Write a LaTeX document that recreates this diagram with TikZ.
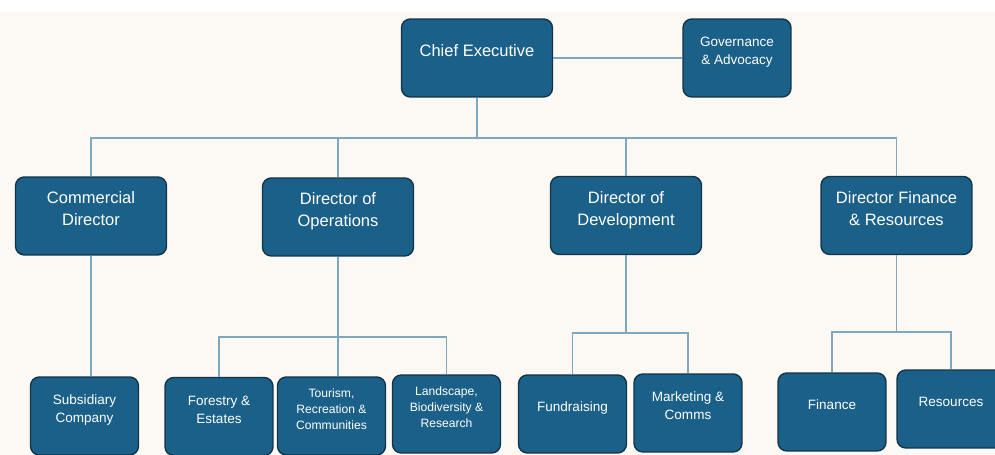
\documentclass[tikz,border=0pt]{standalone}
\usepackage{fontspec}
\setmainfont{Liberation Sans}
\definecolor{boxfill}{RGB}{27,96,136}
\definecolor{boxline}{RGB}{18,52,72}
\definecolor{linkcol}{RGB}{127,168,190}
\definecolor{paper}{RGB}{252,249,244}
\newcommand{\boxtxt}[1]{\raisebox{3.3pt}[\height][\depth]{\begin{tabular}{@{}c@{}}#1\end{tabular}}}
\tikzset{
  box/.style={draw=boxline, fill=boxfill, line width=0.8pt, rounded corners=5pt, text=white, inner sep=0pt},
  chief/.style={box, minimum width=3.02cm, minimum height=1.56cm, font=\fontsize{9.4}{12.5}\selectfont},
  dept/.style={box, minimum width=2.16cm, minimum height=1.56cm, font=\fontsize{7.7}{10.2}\selectfont},
  unit/.style={dept, font=\fontsize{6.9}{9.1}\selectfont},
  link/.style={draw=linkcol, line width=0.6pt}
}

\begin{document}
\begin{tikzpicture}[x=0.02cm, y=-0.02cm]
  \useasboundingbox (0,0) rectangle (995,455);
  \clip (0,0) rectangle (995,455);
  \fill[paper] (0,0) rectangle (995,455);
  \fill[white] (0,0) rectangle (995,12);

  \node[chief] (ceo) at (477,58) {\boxtxt{Chief Executive}};
  \node[dept] (gov) at (737,58) {\boxtxt{Governance\\\& Advocacy}};

  \node[chief] (comm) at (91,216) {\boxtxt{Commercial\\Director}};
  \node[chief] (ops) at (338,217) {\boxtxt{Director of\\Operations}};
  \node[chief] (dev) at (626,215.5) {\boxtxt{Director of\\Development}};
  \node[chief] (fin) at (896.5,215.5) {\boxtxt{Director Finance\\\& Resources}};

  \node[dept] (sub) at (84.5,416) {\boxtxt{Subsidiary\\Company}};
  \node[dept] (fore) at (219,416.5) {\boxtxt{Forestry \&\\Estates}};
  \node[unit] (tour) at (331.5,416) {\boxtxt{Tourism,\\Recreation \&\\Communities}};
  \node[unit] (land) at (446.5,414) {\boxtxt{Landscape,\\Biodiversity \&\\Research}};
  \node[dept] (fund) at (572.5,414) {\boxtxt{Fundraising}};
  \node[dept] (mark) at (688,413) {\boxtxt{Marketing \&\\Comms}};
  \node[dept] (finc) at (832,412) {\boxtxt{Finance}};
  \node[dept] (res) at (951,409) {\boxtxt{Resources}};

  % top level
  \draw[link] (ceo) -- (gov);
  \coordinate (top) at (477,138);
  \draw[link] (ceo.south) -- (top);
  \draw[link] (comm.north) |- (top) -| (fin.north);
  \draw[link] (ops.north) -- (ops.north |- top);
  \draw[link] (dev.north) -- (dev.north |- top);

  % teams
  \draw[link] (comm.south) -- (comm.south |- sub.north);
  \coordinate (opsbar) at (338,337);
  \draw[link] (ops.south) -- (ops.south |- tour.north);
  \draw[link] (fore.north) |- (opsbar) -| (land.north);
  \coordinate (devbar) at (626,333);
  \draw[link] (dev.south) -- (devbar);
  \draw[link] (fund.north) |- (devbar) -| (mark.north);
  \coordinate (finbar) at (896.5,332);
  \draw[link] (fin.south) -- (finbar);
  \draw[link] (finc.north) |- (finbar) -| (res.north);
\end{tikzpicture}
\end{document}
